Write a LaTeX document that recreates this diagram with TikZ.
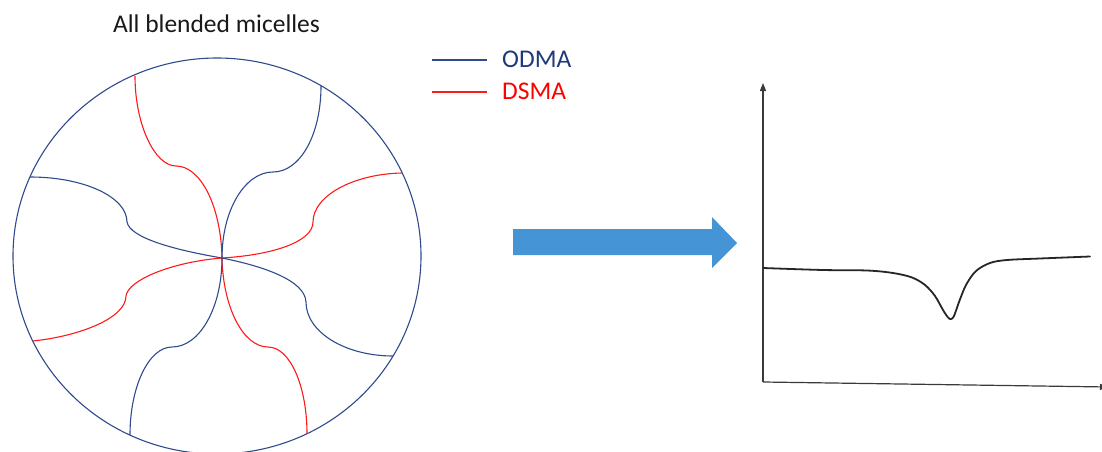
\documentclass[tikz,border=0pt]{standalone}
\usepackage{fontspec}
\setmainfont{Carlito}
\usetikzlibrary{arrows.meta}
\definecolor{chainblue}{HTML}{2F4B8C}
\definecolor{chainred}{HTML}{FF1A1A}
\definecolor{odmatext}{HTML}{1F3A78}
\definecolor{arrowfill}{HTML}{4595D6}
\definecolor{axisgray}{HTML}{3A3A3A}
\begin{document}
\begin{tikzpicture}[x=1pt,y=-1pt,
  odma/.style={draw=chainblue,line width=1.1pt},
  dsma/.style={draw=chainred,line width=1.1pt},
  legendtext/.style={font=\fontsize{25.5}{30}\selectfont, inner sep=0pt, anchor=base west},
  axisline/.style={draw=axisgray,line width=1.2pt,-{Triangle[length=8pt,width=6pt]}}]
\useasboundingbox[fill=white] (0,0) rectangle (1102,452);

% title
\node[font=\fontsize{25.5}{30}\selectfont, anchor=base, text=black!90, inner sep=0pt] (title) at (216.5,33) {All blended micelles};

% micelle shell and common core
\coordinate (core) at (222,258);
\draw[odma] (217,256) ellipse [x radius=204pt, y radius=198pt];

% chains: core -> kink -> shell
\draw[odma] (core) .. controls (175,250) and (130,238) .. (127,222)
                   .. controls (127,197) and (84,177) .. (30,177);
\draw[dsma] (core) .. controls (172,262) and (128,280) .. (126,296)
                   .. controls (126,318) and (80,336) .. (33,341);
\draw[dsma] (core) .. controls (272,255) and (313,242) .. (313,222)
                   .. controls (313,196) and (353,174) .. (402,173);
\draw[odma] (core) .. controls (262,266) and (305,280) .. (306,302)
                   .. controls (306,332) and (345,356) .. (393,356);
\draw[dsma] (core) .. controls (221,207) and (201,166) .. (176,166)
                   .. controls (155,166) and (135,125) .. (135,76);
\draw[odma] (core) .. controls (222,210) and (245,172) .. (273,172)
                   .. controls (300,172) and (321,135) .. (321,86);
\draw[dsma] (core) .. controls (223,307) and (243,347) .. (268,347)
                   .. controls (290,347) and (307,386) .. (307,434);
\draw[odma] (core) .. controls (222,307) and (200,347) .. (172,347)
                   .. controls (149,347) and (130,386) .. (130,435);

% legend
\coordinate (lo1) at (432,60);
\coordinate (lo2) at (487,60);
\coordinate (ld1) at (432,92);
\coordinate (ld2) at (487,92);
\draw[odma] (lo1) -- (lo2);
\draw[dsma] (ld1) -- (ld2);
\node[legendtext, text=odmatext] (odmalabel) at (502,67) {ODMA};
\node[legendtext, text=red] (dsmalabel) at (502,99) {DSMA};

% block arrow
\fill[arrowfill] (513,229) -- (712,229) -- (712,217) -- (737,243)
                 -- (712,268) -- (712,255) -- (513,255) -- cycle;

% axes
\coordinate (origin) at (763,382);
\coordinate (ytop) at (763,83);
\coordinate (xend) at (1108,387);
\draw[axisline] (origin) -- (ytop);
\draw[axisline] (origin) -- (xend);

% measured curve with a single dip
\draw[black!85, line width=1.8pt, line cap=round, line join=round]
  plot[smooth, tension=0.55] coordinates {(763,268) (823,270) (867,270.5) (893,273)
  (912,277.5) (925,285) (935,296) (943,310) (948,317.5) (951,319) (954,316)
  (959,302) (966,285) (976,271) (990,263) (1007,260) (1040,258.5) (1090,256.5)};
\end{tikzpicture}
\end{document}
